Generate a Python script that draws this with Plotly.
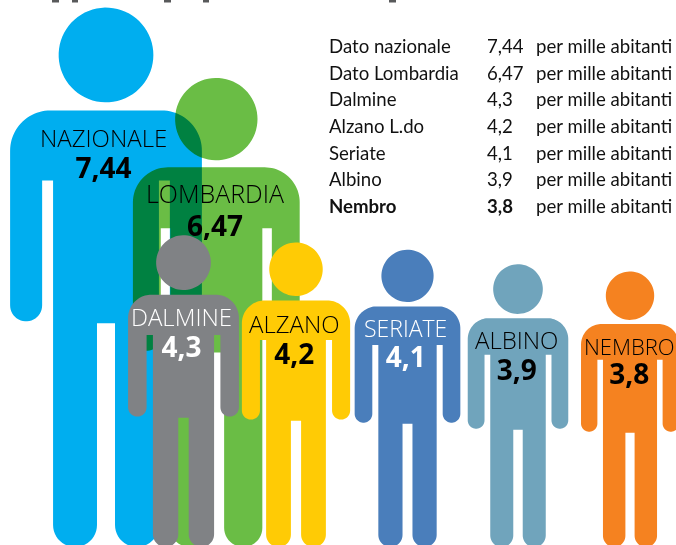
import numpy as np
import plotly.graph_objects as go

# ---- data ----
labels = ["NAZIONALE", "LOMBARDIA", "DALMINE", "ALZANO", "SERIATE", "ALBINO", "NEMBRO"]
values = [7.44, 6.47, 4.3, 4.2, 4.1, 3.9, 3.8]
value_text = ["7,44", "6,47", "4,3", "4,2", "4,1", "3,9", "3,8"]
table_names = ["Dato nazionale", "Dato Lombardia", "Dalmine", "Alzano L.do", "Seriate", "Albino", "Nembro"]
unit_text = "per mille abitanti"

# ---- layout / style (kept apart from the data) ----
W, H = 676, 545
PX_PER_VALUE = 72.5
BASE_PX = 547
centres_px = [106, 216.3, 183.5, 296, 407.5, 518, 630]
colours = ["#00AEEF", "#6ABD45", "#808285", "#FFCB05", "#4A7EBB", "#70A4BC", "#F58220"]
text_colours = ["black", "black", "white", "black", "white", "black", "black"]
label_sizes = [24, 25, 24, 24, 23, 24, 22]
VALUE_SIZE = 28
block_dy = [43, 43, 38, 39, 37, 37, 37]
label_dx = [-3, -1, -2, -2, -2, -2, -1]
FONT = "Open Sans"
TABLE_FONT = "Lato"
TABLE_SIZE = 18.6
headline_stubs_px = [(52, 59), (72, 78), (164, 171), (203, 209), (389, 396)]


def arc(cx, cy, r, a0, a1, n=24):
    t = np.radians(np.linspace(a0, a1, n))
    return list(cx + r * np.cos(t)), list(cy + r * np.sin(t))


def person(cx, value):
    """Pictogram whose total height equals value; y up, in value units."""
    h = value
    w = h * 192 / 540
    top = h
    rh = 0.247 * w
    hx, hy = arc(cx, top - rh, rh, 0, 360, 72)
    sh = top - 0.536 * w          # shoulder line
    hw = w / 2
    arm = 0.167 * w
    gap = 0.057 * w
    legs_gap = 0.047 * w
    rs = 0.21 * w
    gap_top = sh - 0.365 * w
    arm_end = sh - 1.10 * w + arm / 2
    crotch = sh - 1.11 * w
    torso = hw - arm - gap
    leg_w = torso - legs_gap
    foot = leg_w / 2

    xs, ys = [], []
    def add(a, b):
        xs.extend(a); ys.extend(b)
    add(*arc(cx + hw - rs, sh - rs, rs, 90, 0))
    add(*arc(cx + hw - arm / 2, arm_end, arm / 2, 0, -180))
    add([cx + hw - arm, cx + torso], [gap_top, gap_top])
    add(*arc(cx + legs_gap + foot, foot, foot, 0, -180))
    add([cx + legs_gap, cx - legs_gap], [crotch, crotch])
    add(*arc(cx - legs_gap - foot, foot, foot, 0, -180))
    add([cx - torso, cx - hw + arm], [gap_top, gap_top])
    add(*arc(cx - hw + arm / 2, arm_end, arm / 2, 0, -180))
    add(*arc(cx - hw + rs, sh - rs, rs, 180, 90))
    return hx + [None] + xs + [xs[0]], hy + [None] + ys + [ys[0]]


def xv(px):
    return px / PX_PER_VALUE


def yv(px):
    return (BASE_PX - px) / PX_PER_VALUE


fig = go.Figure()
for lab, val, c, col in zip(labels, values, centres_px, colours):
    x, y = person(xv(c), val)
    fig.add_trace(go.Scatter(x=x, y=y, mode="none", fill="toself", fillcolor=col,
                             name=lab, hoverinfo="name", showlegend=False))

ann = []
for i, (lab, vt, val, c) in enumerate(zip(labels, value_text, values, centres_px)):
    shoulder_px = BASE_PX - PX_PER_VALUE * val * (1 - 0.536 * 192 / 540)
    block = f'{lab}<br><span style="font-size:{VALUE_SIZE}px"><b>{vt}</b></span>'
    ann.append(dict(x=xv(c + label_dx[i]), y=yv(shoulder_px + block_dy[i]), text=block, showarrow=False,
                    xanchor="center", yanchor="middle", align="center",
                    font=dict(family=FONT, size=label_sizes[i], color=text_colours[i], weight=300)))

row_px = [46, 73, 99, 126, 153, 179, 206]
for i, (nm, vt) in enumerate(zip(table_names, value_text)):
    bold = i == len(table_names) - 1
    for x_px, t in ((327, nm), (484.5, vt), (534, unit_text)):
        s = f"<b>{t}</b>" if bold and t != unit_text else t
        ann.append(dict(x=xv(x_px), y=yv(row_px[i]), text=s, showarrow=False, xanchor="left",
                        yanchor="middle", font=dict(family=TABLE_FONT, size=TABLE_SIZE, color="#111111")))

shapes = [dict(type="rect", xref="x", yref="y", x0=xv(a), x1=xv(b), y0=yv(2.5), y1=yv(0),
               fillcolor="#58595B", line_width=0) for a, b in headline_stubs_px]

fig.update_layout(
    width=W, height=H, margin=dict(l=0, r=0, t=0, b=0),
    paper_bgcolor="white", plot_bgcolor="white",
    xaxis=dict(range=[0, xv(W)], visible=False, fixedrange=True),
    yaxis=dict(range=[yv(H), yv(0)], visible=False, fixedrange=True),
    annotations=ann, shapes=shapes,
)

# Remove the page margin, and render the green-on-blue overprint with a multiply blend.
post = ("document.body.style.margin='0';"
        "var t=document.querySelectorAll('.scatterlayer .trace');"
        "if(t[1]){t[1].style.mixBlendMode='multiply';}")
fig.write_html("out.html", post_script=post, config={"displayModeBar": False})
